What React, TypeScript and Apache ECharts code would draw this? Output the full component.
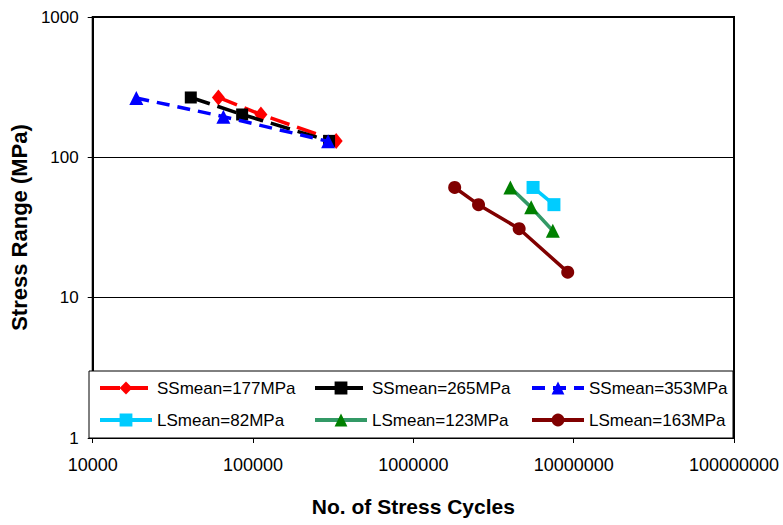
import React, { useEffect, useRef } from "react";
import * as echarts from "echarts";

// ---- data ----
const seriesNames = [
  "SSmean=177MPa",
  "SSmean=265MPa",
  "SSmean=353MPa",
  "LSmean=82MPa",
  "LSmean=123MPa",
  "LSmean=163MPa",
];

const ss177Cycles = [60800, 112000, 330000];
const ss177Stress = [267, 202, 131];

const ss265Cycles = [40900, 85500, 298000];
const ss265Stress = [267, 202, 131];

const ss353Cycles = [18700, 65300, 294000];
const ss353Stress = [265, 195, 130];

const ls82Cycles = [5580000, 7530000];
const ls82Stress = [61, 46];

const ls123Cycles = [4030000, 5430000, 7410000];
const ls123Stress = [61, 44, 30];

const ls163Cycles = [1810000, 2550000, 4570000, 9180000];
const ls163Stress = [61, 46, 31, 15.2];

const xTickLabels = ["10000", "100000", "1000000", "10000000", "100000000"];
const yTickLabels = ["1", "10", "100", "1000"];

const zip = (xs: number[], ys: number[]) => xs.map((x, i) => [x, ys[i]]);

export default function App() {
  const ref = useRef<HTMLDivElement>(null);

  useEffect(() => {
    const chart = echarts.init(ref.current!, null, { renderer: "svg" });
    const font = "'Liberation Sans', Arial, sans-serif";

    const styles = [
      { color: "#FF0000", line: "#FF0000", symbol: "diamond", size: [13, 16], dash: [20, 8] },
      { color: "#000000", line: "#000000", symbol: "rect", size: 12, dash: [20, 8] },
      { color: "#0000FF", line: "#0000FF", symbol: "triangle", size: 14, dash: [13, 8] },
      { color: "#00CCFF", line: "#00CCFF", symbol: "rect", size: 13, dash: "solid" },
      { color: "#008000", line: "#339966", symbol: "triangle", size: 14, dash: "solid" },
      { color: "#800000", line: "#800000", symbol: "circle", size: 13, dash: "solid" },
    ];
    const dataSets = [
      zip(ss177Cycles, ss177Stress),
      zip(ss265Cycles, ss265Stress),
      zip(ss353Cycles, ss353Stress),
      zip(ls82Cycles, ls82Stress),
      zip(ls123Cycles, ls123Stress),
      zip(ls163Cycles, ls163Stress),
    ];

    const series = seriesNames.map((name, i) => ({
      name,
      type: "line",
      data: dataSets[i],
      symbol: styles[i].symbol,
      symbolSize: styles[i].size,
      showAllSymbol: true,
      itemStyle: { color: styles[i].color },
      lineStyle: { color: styles[i].line, width: 3.5, type: styles[i].dash },
      z: 2 + i,
    }));

    const legendLefts = [98, 313, 530];
    const legendRows = [379, 411];
    const legends = seriesNames.map((name, i) => ({
      data: [name],
      left: legendLefts[i % 3],
      top: legendRows[Math.floor(i / 3)],
      orient: "horizontal",
      padding: 0,
      itemWidth: 52,
      itemHeight: 16,
      selectedMode: false,
      lineStyle: { width: 4 },
      textStyle: { fontFamily: font, fontSize: 17, color: "#000", lineHeight: 18 },
      z: 10,
    }));

    chart.setOption({
      animation: false,
      backgroundColor: "#ffffff",
      grid: {
        left: 87,
        top: 17,
        right: 49,
        bottom: 87,
        show: true,
        borderColor: "#000",
        borderWidth: 2,
        backgroundColor: "transparent",
      },
      xAxis: {
        type: "log",
        logBase: 10,
        min: 10000,
        max: 100000000,
        name: "No. of Stress Cycles",
        nameLocation: "middle",
        nameGap: 58,
        nameTextStyle: { fontFamily: font, fontSize: 21, fontWeight: "bold", color: "#000" },
        axisLine: { lineStyle: { color: "#000", width: 2 } },
        axisTick: { show: true, length: 5, inside: false, lineStyle: { color: "#000" } },
        axisLabel: {
          fontFamily: font,
          fontSize: 18,
          color: "#000",
          margin: 18,
          formatter: (v: number) => xTickLabels[Math.round(Math.log10(v)) - 4] ?? "",
        },
        splitLine: { show: false },
      },
      yAxis: {
        type: "log",
        logBase: 10,
        min: 1,
        max: 1000,
        name: "Stress Range (MPa)",
        nameLocation: "middle",
        nameGap: 52,
        nameTextStyle: { fontFamily: font, fontSize: 22, fontWeight: "bold", color: "#000" },
        axisLine: { lineStyle: { color: "#000", width: 2 } },
        axisTick: { show: true, length: 5, lineStyle: { color: "#000" } },
        axisLabel: {
          fontFamily: font,
          fontSize: 17,
          color: "#000",
          margin: 14,
          formatter: (v: number) => yTickLabels[Math.round(Math.log10(v))] ?? "",
        },
        splitLine: { show: true, lineStyle: { color: "#000", width: 1 } },
      },
      graphic: [
        {
          type: "rect",
          z: 5,
          shape: { x: 89, y: 371, width: 644, height: 67 },
          style: { fill: "#ffffff", stroke: "#000", lineWidth: 1 },
        },
      ],
      legend: legends,
      series,
    });

    return () => chart.dispose();
  }, []);

  return (
    <div
      ref={ref}
      style={{ position: "fixed", left: 0, top: 0, width: 783, height: 525 }}
    />
  );
}
